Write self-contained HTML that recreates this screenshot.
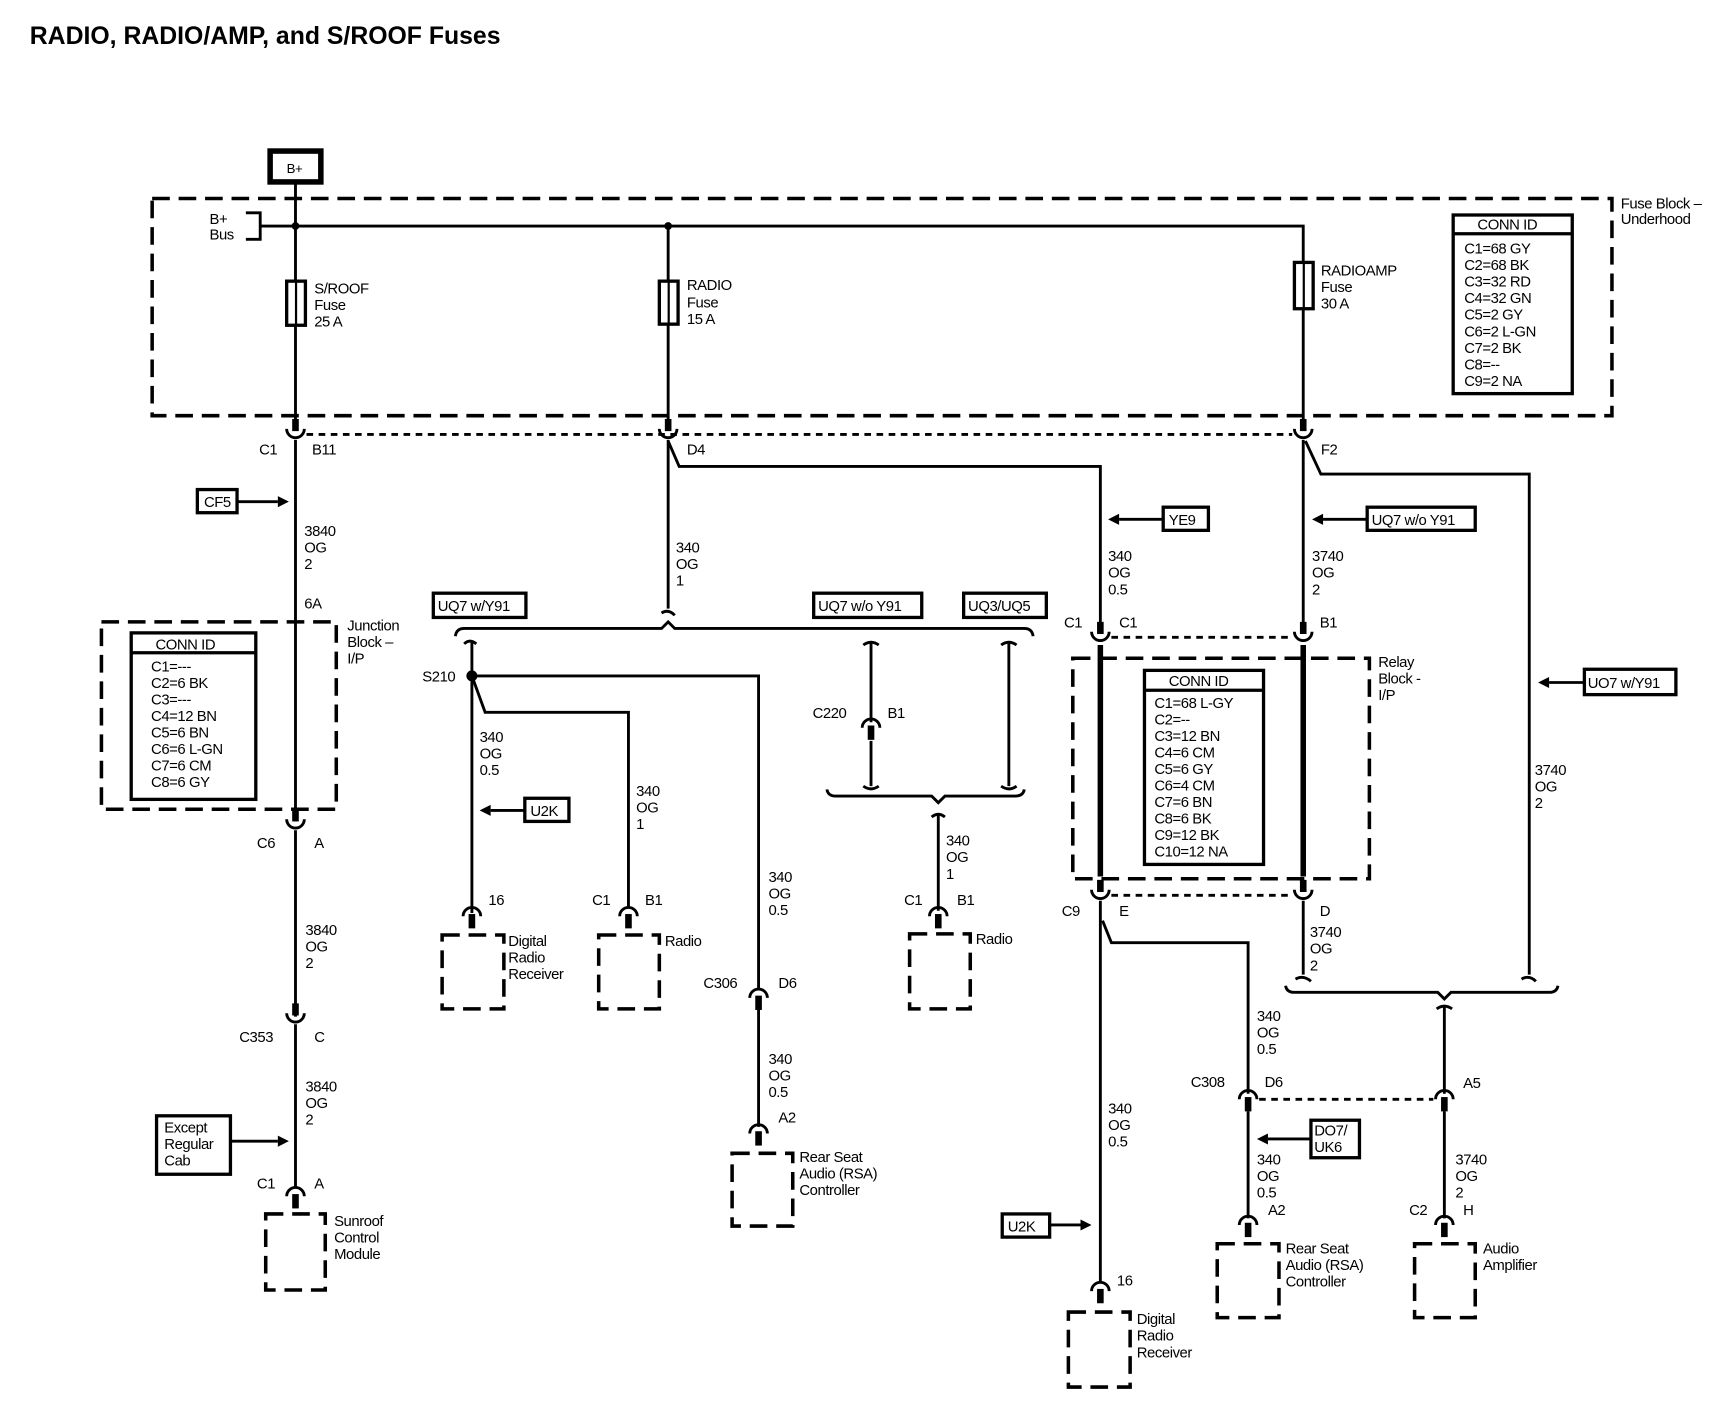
<!DOCTYPE html>
<html><head><meta charset="utf-8"><style>
html,body{margin:0;padding:0;background:#fff;}
svg{display:block;}
text{font-family:"Liberation Sans",sans-serif;font-size:13.5px;fill:#000;letter-spacing:-0.4px;}
.b{font-weight:bold;}
.w{stroke:#000;stroke-width:2.6;fill:none;}
.dash{stroke:#000;stroke-width:3.2;fill:none;stroke-dasharray:16 8;}
.dot{stroke:#000;stroke-width:2.6;fill:none;stroke-dasharray:6 5;}
.box{stroke:#000;stroke-width:3;fill:#fff;}
</style></head><body>
<svg width="1720" height="1408" viewBox="0 0 1560 1277" preserveAspectRatio="none" xmlns="http://www.w3.org/2000/svg">
<defs>
<g id="ci"><path d="M0 -14 V -3" stroke="#000" stroke-width="6"/><path d="M-8 -5 A8 8 0 0 0 8 -5" class="w"/></g>
<g id="cd"><path d="M-8 5 A8 8 0 0 1 8 5" class="w"/><path d="M0 3 V 16" stroke="#000" stroke-width="6"/></g>
<g id="ar"><path d="M0 0 L10 -5 L10 5 Z" fill="#000"/></g>
</defs>

<text x="27" y="40" class="b" style="font-size:22.5px;letter-spacing:0">RADIO, RADIO/AMP, and S/ROOF Fuses</text>

<rect x="245" y="137" width="46" height="28" fill="#fff" stroke="#000" stroke-width="5"/>
<text x="260" y="157" style="font-size:12px">B+</text>

<rect x="138" y="180" width="1324" height="197" class="dash"/>
<text x="1470" y="189">Fuse Block –</text><text x="1470" y="203">Underhood</text>
<path d="M223 193 H236 V217 H223" class="w"/>
<text x="190" y="203">B+</text><text x="190" y="217">Bus</text>
<path d="M237 205 H1182 V237 M1182 280 V390" class="w"/>
<circle cx="268" cy="205" r="3.5"/><circle cx="606" cy="205" r="3.5"/>
<path d="M268 165 V255 M268 295 V390 M606 205 V255 M606 294 V390" class="w"/>
<rect x="260" y="255" width="17" height="40" fill="#fff" stroke="#000" stroke-width="3"/>
<rect x="598" y="255" width="17" height="39" fill="#fff" stroke="#000" stroke-width="3"/>
<rect x="1174" y="238" width="17" height="42" fill="#fff" stroke="#000" stroke-width="3"/>
<path d="M268.5 255 V295 M606.5 255 V294 M1182.5 238 V280" stroke="#000" stroke-width="2"/>
<text x="285" y="266">S/ROOF</text><text x="285" y="281">Fuse</text><text x="285" y="296">25 A</text>
<text x="623" y="263">RADIO</text><text x="623" y="279">Fuse</text><text x="623" y="294">15 A</text>
<text x="1198" y="250">RADIOAMP</text><text x="1198" y="265">Fuse</text><text x="1198" y="280">30 A</text>
<rect x="1318" y="195" width="108" height="162" fill="#fff" stroke="#000" stroke-width="3"/>
<path d="M1318 212 H1426" stroke="#000" stroke-width="3"/>
<text x="1340" y="208">CONN ID</text>
<text x="1328" y="230">C1=68 GY</text><text x="1328" y="245">C2=68 BK</text><text x="1328" y="260">C3=32 RD</text><text x="1328" y="275">C4=32 GN</text><text x="1328" y="290">C5=2 GY</text><text x="1328" y="305">C6=2 L-GN</text><text x="1328" y="320">C7=2 BK</text><text x="1328" y="335">C8=--</text><text x="1328" y="350">C9=2 NA</text>

<path d="M278 394 H1172" class="dot"/>
<use href="#ci" x="268" y="394"/><use href="#ci" x="606" y="394"/><use href="#ci" x="1182" y="394"/>
<text x="235" y="412">C1</text><text x="283" y="412">B11</text><text x="623" y="412">D4</text><text x="1198" y="412">F2</text>

<path d="M268 399 V745" class="w"/>
<rect x="179" y="444" width="36" height="21" class="box"/><text x="185" y="460">CF5</text>
<path d="M215 455 H252" class="w"/><use href="#ar" x="262" y="455" transform="rotate(180 262 455)"/>
<text x="276" y="486">3840</text><text x="276" y="501">OG</text><text x="276" y="516">2</text>
<text x="276" y="552">6A</text>
<rect x="92" y="564" width="213" height="170" class="dash"/>
<text x="315" y="572">Junction</text><text x="315" y="587">Block –</text><text x="315" y="602">I/P</text>
<rect x="119" y="574" width="113" height="151" fill="#fff" stroke="#000" stroke-width="3"/>
<path d="M119 592 H232" stroke="#000" stroke-width="3"/>
<text x="141" y="589">CONN ID</text>
<text x="137" y="609">C1=---</text><text x="137" y="624">C2=6 BK</text><text x="137" y="639">C3=---</text><text x="137" y="654">C4=12 BN</text><text x="137" y="669">C5=6 BN</text><text x="137" y="684">C6=6 L-GN</text><text x="137" y="699">C7=6 CM</text><text x="137" y="714">C8=6 GY</text>
<use href="#ci" x="268" y="748"/>
<text x="233" y="769">C6</text><text x="285" y="769">A</text>
<path d="M268 753 V922" class="w"/>
<text x="277" y="848">3840</text><text x="277" y="863">OG</text><text x="277" y="878">2</text>
<use href="#ci" x="268" y="924"/>
<text x="217" y="945">C353</text><text x="285" y="945">C</text>
<path d="M268 929 V1078" class="w"/>
<text x="277" y="990">3840</text><text x="277" y="1005">OG</text><text x="277" y="1020">2</text>
<rect x="142" y="1012" width="67" height="53" class="box"/>
<text x="149" y="1027">Except</text><text x="149" y="1042">Regular</text><text x="149" y="1057">Cab</text>
<path d="M209 1035 H252" class="w"/><use href="#ar" x="262" y="1035" transform="rotate(180 262 1035)"/>
<use href="#cd" x="268" y="1080"/>
<text x="233" y="1078">C1</text><text x="285" y="1078">A</text>
<path d="M241 1101 H295 V1170 H241 Z" class="dash"/>
<text x="303" y="1112">Sunroof</text><text x="303" y="1127">Control</text><text x="303" y="1142">Module</text>

<path d="M606 399 V552 M600 556 Q606 552 612 558" class="w"/>
<path d="M606 400 L616 423 H998 V566" class="w"/>
<text x="613" y="501">340</text><text x="613" y="516">OG</text><text x="613" y="531">1</text>
<rect x="393" y="538" width="84" height="22" class="box"/><text x="397" y="554">UQ7 w/Y91</text>
<rect x="738" y="538" width="98" height="22" class="box"/><text x="742" y="554">UQ7 w/o Y91</text>
<rect x="874" y="538" width="75" height="22" class="box"/><text x="878" y="554">UQ3/UQ5</text>
<path d="M413 577 Q414 570 421 570 H600 L606 564 L612 570 H929 Q936 570 937 577" class="w"/>
<path d="M421 584 Q426 579 432 584 M428 581 V828" class="w"/>
<circle cx="428" cy="613" r="5"/>
<text x="383" y="618">S210</text>
<path d="M428 613 H688 V897" class="w"/>
<path d="M428 613 L440 646 H570 V822" class="w"/>
<text x="435" y="673">340</text><text x="435" y="688">OG</text><text x="435" y="703">0.5</text>
<rect x="476" y="724" width="40" height="21" class="box"/><text x="481" y="740">U2K</text>
<path d="M476 735 H445" class="w"/><use href="#ar" x="435" y="735"/>
<text x="577" y="722">340</text><text x="577" y="737">OG</text><text x="577" y="752">1</text>
<use href="#cd" x="428" y="826"/><text x="443" y="821">16</text>
<path d="M401 848 H457 V915 H401 Z" class="dash"/>
<text x="461" y="858">Digital</text><text x="461" y="873">Radio</text><text x="461" y="888">Receiver</text>
<use href="#cd" x="570" y="826"/><text x="537" y="821">C1</text><text x="585" y="821">B1</text>
<path d="M543 848 H598 V915 H543 Z" class="dash"/>
<text x="603" y="858">Radio</text>
<text x="697" y="800">340</text><text x="697" y="815">OG</text><text x="697" y="830">0.5</text>
<use href="#cd" x="688" y="900"/>
<text x="638" y="896">C306</text><text x="706" y="896">D6</text>
<path d="M688 915 V1022" class="w"/>
<text x="697" y="965">340</text><text x="697" y="980">OG</text><text x="697" y="995">0.5</text>
<use href="#cd" x="688" y="1023"/><text x="706" y="1018">A2</text>
<path d="M664 1046 H719 V1112 H664 Z" class="dash"/>
<text x="725" y="1054">Rear Seat</text><text x="725" y="1069">Audio (RSA)</text><text x="725" y="1084">Controller</text>
<path d="M783 585 Q790 580 797 585 M790 582 V655 M790 672 V713 M783 713 Q790 718 797 713" class="w"/>
<use href="#cd" x="790" y="655"/>
<text x="737" y="651">C220</text><text x="805" y="651">B1</text>
<path d="M908 585 Q915 580 922 585 M915 582 V713 M908 713 Q915 718 922 713" class="w"/>
<path d="M750 716 Q751 722 758 722 H845 L851 728 L857 722 H921 Q928 722 929 716" class="w"/>
<path d="M845 741 Q851 736 857 741 M851 738 V826" class="w"/>
<text x="858" y="767">340</text><text x="858" y="782">OG</text><text x="858" y="797">1</text>
<use href="#cd" x="851" y="826"/><text x="820" y="821">C1</text><text x="868" y="821">B1</text>
<path d="M825 847 H880 V915 H825 Z" class="dash"/>
<text x="885" y="856">Radio</text>

<rect x="1055" y="460" width="41" height="21" class="box"/><text x="1060" y="476">YE9</text>
<path d="M1055 471 H1015" class="w"/><use href="#ar" x="1005" y="471"/>
<text x="1005" y="509">340</text><text x="1005" y="524">OG</text><text x="1005" y="539">0.5</text>
<rect x="1240" y="460" width="98" height="21" class="box"/><text x="1244" y="476">UQ7 w/o Y91</text>
<path d="M1240 471 H1200" class="w"/><use href="#ar" x="1190" y="471"/>
<path d="M1182 399 V567 M1184 400 L1198 430 H1387 V884 M1380 888 Q1387 884 1393 890" class="w"/>
<text x="1190" y="509">3740</text><text x="1190" y="524">OG</text><text x="1190" y="539">2</text>
<rect x="1437" y="607" width="83" height="23" class="box"/><text x="1440" y="624">UO7 w/Y91</text>
<path d="M1437 619 H1405" class="w"/><use href="#ar" x="1395" y="619"/>
<text x="1392" y="703">3740</text><text x="1392" y="718">OG</text><text x="1392" y="733">2</text>
<path d="M1008 578 H1172" class="dot"/>
<use href="#ci" x="998" y="578"/><use href="#ci" x="1182" y="578"/>
<text x="965" y="569">C1</text><text x="1015" y="569">C1</text><text x="1197" y="569">B1</text>
<path d="M998 585 V795 M1182 585 V795" stroke="#000" stroke-width="5"/>
<rect x="973" y="597" width="269" height="200" class="dash"/>
<text x="1250" y="605">Relay</text><text x="1250" y="620">Block -</text><text x="1250" y="635">I/P</text>
<rect x="1038" y="608" width="108" height="176" fill="#fff" stroke="#000" stroke-width="3"/>
<path d="M1038 626 H1146" stroke="#000" stroke-width="3"/>
<text x="1060" y="622">CONN ID</text>
<text x="1047" y="642">C1=68 L-GY</text><text x="1047" y="657">C2=--</text><text x="1047" y="672">C3=12 BN</text><text x="1047" y="687">C4=6 CM</text><text x="1047" y="702">C5=6 GY</text><text x="1047" y="717">C6=4 CM</text><text x="1047" y="732">C7=6 BN</text><text x="1047" y="747">C8=6 BK</text><text x="1047" y="762">C9=12 BK</text><text x="1047" y="777">C10=12 NA</text>
<path d="M1008 812 H1172" class="dot"/>
<use href="#ci" x="998" y="812"/><use href="#ci" x="1182" y="812"/>
<text x="963" y="831">C9</text><text x="1015" y="831">E</text><text x="1197" y="831">D</text>
<path d="M998 817 V1163" class="w"/>
<path d="M1000 835 L1008 855 H1132 V992" class="w"/>
<text x="1140" y="926">340</text><text x="1140" y="941">OG</text><text x="1140" y="956">0.5</text>
<text x="1005" y="1010">340</text><text x="1005" y="1025">OG</text><text x="1005" y="1040">0.5</text>
<rect x="909" y="1101" width="43" height="21" class="box"/><text x="914" y="1117">U2K</text>
<path d="M952 1111 H980" class="w"/><use href="#ar" x="990" y="1111" transform="rotate(180 990 1111)"/>
<use href="#cd" x="998" y="1166"/><text x="1013" y="1166">16</text>
<path d="M969 1190 H1025 V1258 H969 Z" class="dash"/>
<text x="1031" y="1201">Digital</text><text x="1031" y="1216">Radio</text><text x="1031" y="1231">Receiver</text>
<path d="M1182 817 V884 M1175 888 Q1182 884 1189 890" class="w"/>
<text x="1188" y="850">3740</text><text x="1188" y="865">OG</text><text x="1188" y="880">2</text>
<path d="M1166 894 Q1167 900 1174 900 H1304 L1310 906 L1316 900 H1405 Q1412 900 1413 894" class="w"/>
<path d="M1303 915 Q1310 910 1317 915 M1310 912 V992" class="w"/>
<path d="M1142 997 H1300" class="dot"/>
<use href="#cd" x="1132" y="992"/><use href="#cd" x="1310" y="992"/>
<text x="1080" y="986">C308</text><text x="1147" y="986">D6</text><text x="1327" y="987">A5</text>
<path d="M1132 1008 V1105 M1310 1008 V1105" class="w"/>
<rect x="1189" y="1016" width="44" height="34" class="box"/><text x="1192" y="1030">DO7/</text><text x="1192" y="1045">UK6</text>
<path d="M1189 1033 H1150" class="w"/><use href="#ar" x="1140" y="1033"/>
<text x="1140" y="1056">340</text><text x="1140" y="1071">OG</text><text x="1140" y="1086">0.5</text>
<text x="1320" y="1056">3740</text><text x="1320" y="1071">OG</text><text x="1320" y="1086">2</text>
<use href="#cd" x="1132" y="1106"/><text x="1150" y="1102">A2</text>
<use href="#cd" x="1310" y="1106"/><text x="1278" y="1102">C2</text><text x="1327" y="1102">H</text>
<path d="M1104 1128 H1160 V1195 H1104 Z" class="dash"/>
<text x="1166" y="1137">Rear Seat</text><text x="1166" y="1152">Audio (RSA)</text><text x="1166" y="1167">Controller</text>
<path d="M1283 1128 H1338 V1195 H1283 Z" class="dash"/>
<text x="1345" y="1137">Audio</text><text x="1345" y="1152">Amplifier</text>
</svg>
</body></html>
